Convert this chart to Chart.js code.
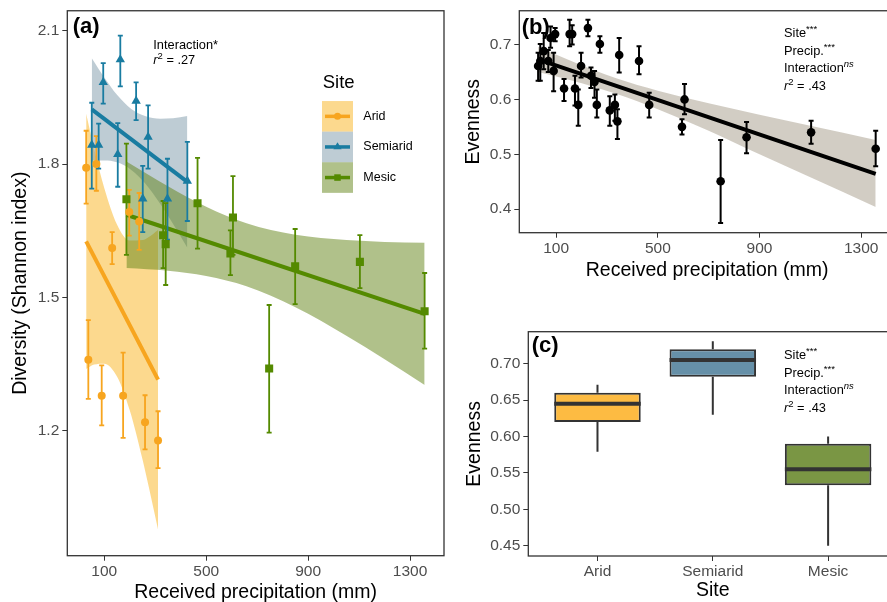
<!DOCTYPE html>
<html>
<head>
<meta charset="utf-8">
<script src="https://cdn.jsdelivr.net/npm/chart.js@4.4.0/dist/chart.umd.min.js"></script>
<style>
  html, body { margin: 0; padding: 0; background: #fff; overflow: hidden; }
  #wrap { position: relative; width: 887px; height: 602px; overflow: hidden; }
  canvas { position: absolute; }
  #diversity { left: 0; top: 0; }
  #evenness { left: 452px; top: 0; }
  #sites { left: 452px; top: 300px; }
</style>
</head>
<body>
<div id="wrap">
  <canvas id="diversity" width="452" height="602"></canvas>
  <canvas id="evenness" width="452" height="290"></canvas>
  <canvas id="sites" width="452" height="302"></canvas>
</div>
<script>
// ---- data ----
const sites = ['Arid', 'Semiarid', 'Mesic'];

// received precipitation per plot (mm)
const aridPrecip  = [29, 37.5, 69, 90, 131, 174, 198, 237, 260, 311];
const semiPrecip  = [51, 78, 96, 153, 163, 225, 251, 272, 348, 426];
const mesicPrecip = [187, 331, 341, 466, 595, 605, 747, 849, 1103, 1357];

// Shannon diversity (mean, lower, upper)
const aridDiv    = [1.792, 1.360, 1.800, 1.279, 1.611, 1.279, 1.692, 1.671, 1.219, 1.178];
const aridDivLo  = [1.711, 1.272, 1.740, 1.212, 1.575, 1.184, 1.639, 1.607, 1.158, 1.116];
const aridDivHi  = [1.875, 1.449, 1.863, 1.347, 1.647, 1.376, 1.742, 1.735, 1.280, 1.244];
const semiDiv    = [1.843, 1.843, 1.984, 1.822, 2.035, 1.942, 1.722, 1.861, 1.722, 1.762];
const semiDivLo  = [1.745, 1.790, 1.936, 1.749, 1.975, 1.899, 1.647, 1.790, 1.630, 1.672];
const semiDivHi  = [1.938, 1.891, 2.027, 1.892, 2.089, 1.984, 1.796, 1.932, 1.812, 1.850];
const mesicDiv   = [1.721, 1.640, 1.620, 1.712, 1.599, 1.680, 1.340, 1.570, 1.580, 1.469];
const mesicDivLo = [1.596, 1.566, 1.528, 1.610, 1.550, 1.596, 1.196, 1.485, 1.521, 1.385];
const mesicDivHi = [1.846, 1.717, 1.712, 1.814, 1.651, 1.773, 1.483, 1.654, 1.640, 1.555];

// evenness (mean, lower, upper)
const aridEven    = [0.661, 0.670, 0.670, 0.652, 0.620, 0.620, 0.661, 0.643, 0.590, 0.580];
const aridEvenLo  = [0.634, 0.634, 0.650, 0.615, 0.597, 0.589, 0.640, 0.621, 0.567, 0.552];
const aridEvenHi  = [0.685, 0.701, 0.690, 0.685, 0.637, 0.643, 0.685, 0.658, 0.618, 0.606];
const semiEven    = [0.688, 0.712, 0.719, 0.719, 0.719, 0.730, 0.632, 0.701, 0.681, 0.670];
const semiEvenLo  = [0.655, 0.694, 0.706, 0.697, 0.700, 0.715, 0.603, 0.685, 0.649, 0.646];
const semiEvenHi  = [0.721, 0.733, 0.730, 0.745, 0.735, 0.745, 0.652, 0.715, 0.712, 0.697];
const mesicEven   = [0.590, 0.590, 0.560, 0.590, 0.550, 0.600, 0.451, 0.531, 0.540, 0.510];
const mesicEvenLo = [0.552, 0.561, 0.528, 0.567, 0.536, 0.573, 0.375, 0.502, 0.519, 0.478];
const mesicEvenHi = [0.618, 0.609, 0.582, 0.612, 0.564, 0.628, 0.526, 0.559, 0.561, 0.543];

// fitted lines
const aridFitX  = [29, 311],   aridFitY  = [1.626, 1.315];
const semiFitX  = [51, 426],   semiFitY  = [1.923, 1.760];
const mesicFitX = [187, 1357], mesicFitY = [1.686, 1.463];
const evenFitX  = [29, 1357],  evenFitY  = [0.673, 0.4645];

// confidence bands
const aridBandX   = [29, 60, 100, 150, 200, 250, 275, 311];
const aridBandHi  = [1.913, 1.835, 1.746, 1.664, 1.628, 1.629, 1.636, 1.652];
const aridBandLo  = [1.339, 1.349, 1.351, 1.322, 1.246, 1.136, 1.073, 0.978];
const semiBandX   = [51, 100, 150, 206, 260, 320, 370, 426];
const semiBandHi  = [2.038, 1.995, 1.956, 1.924, 1.908, 1.902, 1.903, 1.908];
const semiBandLo  = [1.808, 1.808, 1.804, 1.787, 1.757, 1.710, 1.665, 1.612];
const mesicBandX  = [187, 350, 500, 658, 850, 1050, 1200, 1357];
const mesicBandHi = [1.806, 1.750, 1.704, 1.667, 1.641, 1.629, 1.625, 1.623];
const mesicBandLo = [1.566, 1.560, 1.548, 1.525, 1.478, 1.414, 1.361, 1.303];
const evenBandX   = [29, 150, 339, 500, 700, 900, 1100, 1357];
const evenBandHi  = [0.696, 0.672, 0.638, 0.616, 0.593, 0.572, 0.552, 0.526];
const evenBandLo  = [0.650, 0.636, 0.610, 0.582, 0.543, 0.500, 0.458, 0.404];

// evenness by site (boxplot stats)
const boxMin = [0.579, 0.630, 0.450];
const boxQ1  = [0.620, 0.682, 0.533];
const boxMed = [0.645, 0.705, 0.555];
const boxQ3  = [0.660, 0.720, 0.590];
const boxMax = [0.671, 0.731, 0.600];

// ticks
const precipTicks = [100, 500, 900, 1300];
const divTicks = [1.2, 1.5, 1.8, 2.1];
const evenTicks = [0.4, 0.5, 0.6, 0.7];
const boxTicks = [0.45, 0.50, 0.55, 0.60, 0.65, 0.70];
const siteTicks = [1, 2, 3];

// ---- styling ----
const FONT = "'Liberation Sans', Arial, Helvetica, sans-serif";
const INK = '#333333';
const ARID = '#F7A51F', SEMI = '#197CA1', MESIC = '#548A00';
const siteColors = [ARID, SEMI, MESIC];
const bandFills = ['rgba(250,180,30,0.5)', 'rgba(125,153,169,0.5)', 'rgba(97,131,21,0.5)'];
const markers = ['circle', 'triangle', 'rect'];
const boxFills = ['#FDBB42', '#6690A8', '#7A9644'];

const TXT = `12.8px ${FONT}`, SUP = `9.5px ${FONT}`;
const ITAL = `italic 12.8px ${FONT}`, SUPI = `italic 9.5px ${FONT}`;
const TAG = `bold 22px ${FONT}`;

const pts = (xs, ys) => xs.map((x, i) => ({ x, y: ys[i] }));

function axis(min, max, values, fmt, title, size, titlePad) {
  return {
    type: 'linear', min, max, offset: false,
    afterBuildTicks: a => { a.ticks = values.map(v => ({ value: v })); },
    afterFit: a => { if (a.isHorizontal()) a.height = size; else a.width = size; },
    ticks: { font: { family: FONT, size: 15.5, lineHeight: 1 }, color: '#4d4d4d', padding: 3,
             callback: fmt, autoSkip: false, maxRotation: 0 },
    grid: { display: true, offset: false, drawOnChartArea: false, drawTicks: true, tickLength: 5, tickColor: INK, tickWidth: 1 },
    border: { display: false },
    title: { display: true, text: title, color: '#000', font: { family: FONT, size: 19.5, lineHeight: 1 }, padding: titlePad }
  };
}

function pointSet(xs, ys, color, style, r) {
  return { data: pts(xs, ys), pointStyle: style, pointRadius: r, pointHoverRadius: r,
           backgroundColor: color, borderWidth: 0 };
}
function fitSet(xs, ys, color) {
  return { data: pts(xs, ys), showLine: true, borderColor: color, borderWidth: 4, pointRadius: 0, fill: false };
}
function edgeSet(xs, ys, fillColor) {
  return { data: pts(xs, ys), showLine: true, borderWidth: 0, borderColor: 'transparent', pointRadius: 0,
           cubicInterpolationMode: 'monotone', fill: fillColor ? '-1' : false,
           backgroundColor: fillColor || 'transparent' };
}

// panel box
Chart.register({
  id: 'frame',
  afterDraw(chart) {
    const { ctx, chartArea: a } = chart;
    ctx.save();
    ctx.strokeStyle = INK;
    ctx.lineWidth = 1.3;
    ctx.strokeRect(a.left, a.top, a.right - a.left, a.bottom - a.top);
    ctx.restore();
  }
});

// vertical error bars with caps, drawn just before the points
function errorBars(groups, beforeIndex, width, cap) {
  return {
    id: 'errorBars',
    beforeDatasetDraw(chart, args) {
      if (args.index !== beforeIndex) return;
      const { ctx, scales: { x, y } } = chart;
      ctx.save();
      ctx.lineWidth = width;
      for (const g of groups) {
        ctx.strokeStyle = g.color;
        g.xs.forEach((v, i) => {
          const px = x.getPixelForValue(v);
          const top = y.getPixelForValue(g.hi[i]), bot = y.getPixelForValue(g.lo[i]);
          ctx.beginPath();
          ctx.moveTo(px, top); ctx.lineTo(px, bot);
          ctx.moveTo(px - cap, top); ctx.lineTo(px + cap, top);
          ctx.moveTo(px - cap, bot); ctx.lineTo(px + cap, bot);
          ctx.stroke();
        });
      }
      ctx.restore();
    }
  };
}

// text runs (superscripts, italics) placed from the panel's top-left
function notes(items) {
  return {
    id: 'notes',
    afterDraw(chart) {
      const { ctx, chartArea: a } = chart;
      ctx.save();
      ctx.fillStyle = '#000';
      ctx.textAlign = 'left';
      ctx.textBaseline = 'alphabetic';
      for (const it of items) {
        let x = a.left + it.dx;
        const y = a.top + it.dy;
        for (const r of it.runs) {
          ctx.font = r.font;
          ctx.fillText(r.text, x, y - (r.rise || 0));
          x += ctx.measureText(r.text).width;
        }
      }
      ctx.restore();
    }
  };
}

function statLines(dx, dy, r2) {
  const rows = [
    [{ text: 'Site', font: TXT }, { text: '***', font: SUP, rise: 5 }],
    [{ text: 'Precip.', font: TXT }, { text: '***', font: SUP, rise: 5 }],
    [{ text: 'Interaction', font: TXT }, { text: 'ns', font: SUPI, rise: 5 }],
    [{ text: 'r', font: ITAL }, { text: '2', font: SUP, rise: 5 }, { text: ' = ' + r2, font: TXT }]
  ];
  return rows.map((runs, i) => ({ dx, dy: dy + i * 17.5, runs }));
}

const siteLegend = {
  id: 'siteLegend',
  afterDraw(chart) {
    const { ctx, chartArea: a } = chart;
    const left = a.left + 254.7, top = a.top + 90.3, w = 31, h = 30.6;
    const radii = [3.5, 4.8, 4.6];
    ctx.save();
    ctx.textBaseline = 'middle';
    ctx.fillStyle = '#000';
    ctx.font = `18.5px ${FONT}`;
    ctx.fillText('Site', left + 0.7, top - 18.3);
    sites.forEach((name, i) => {
      const y = top + i * h;
      ctx.fillStyle = bandFills[i];
      ctx.fillRect(left, y, w, h);
      ctx.strokeStyle = siteColors[i];
      ctx.lineWidth = 3.5;
      ctx.beginPath();
      ctx.moveTo(left + 3, y + h / 2); ctx.lineTo(left + w - 3, y + h / 2);
      ctx.stroke();
      ctx.fillStyle = siteColors[i];
      Chart.helpers.drawPoint(ctx, { pointStyle: markers[i], radius: radii[i], rotation: 0, borderWidth: 0 },
                              left + w / 2, y + h / 2);
      ctx.fillStyle = '#000';
      ctx.font = `12.5px ${FONT}`;
      ctx.fillText(name, left + 41.3, y + h / 2);
    });
    ctx.restore();
  }
};

// whiskers under the boxes, medians on top
const boxParts = {
  id: 'boxParts',
  beforeDatasetsDraw(chart) {
    const { ctx, scales: { x, y } } = chart;
    ctx.save();
    ctx.strokeStyle = INK;
    ctx.lineWidth = 2;
    sites.forEach((s, i) => {
      const px = x.getPixelForValue(i + 1);
      ctx.beginPath();
      ctx.moveTo(px, y.getPixelForValue(boxQ3[i])); ctx.lineTo(px, y.getPixelForValue(boxMax[i]));
      ctx.moveTo(px, y.getPixelForValue(boxQ1[i])); ctx.lineTo(px, y.getPixelForValue(boxMin[i]));
      ctx.stroke();
    });
    ctx.restore();
  },
  afterDatasetsDraw(chart) {
    const { ctx, scales: { y } } = chart;
    const bars = chart.getDatasetMeta(0).data;
    ctx.save();
    ctx.strokeStyle = INK;
    ctx.lineWidth = 4;
    bars.forEach((bar, i) => {
      const py = y.getPixelForValue(boxMed[i]);
      ctx.beginPath();
      ctx.moveTo(bar.x - bar.width / 2, py); ctx.lineTo(bar.x + bar.width / 2, py);
      ctx.stroke();
    });
    ctx.restore();
  }
};

const common = {
  responsive: false, animation: false, devicePixelRatio: 1,
  plugins: { legend: { display: false }, tooltip: { enabled: false } }
};

// (a) diversity vs precipitation
new Chart(document.getElementById('diversity'), {
  type: 'scatter',
  data: { datasets: [
    pointSet(aridPrecip, aridDiv, ARID, 'circle', 4),
    pointSet(semiPrecip, semiDiv, SEMI, 'triangle', 5.4),
    pointSet(mesicPrecip, mesicDiv, MESIC, 'rect', 5.7),
    fitSet(aridFitX, aridFitY, ARID),
    fitSet(semiFitX, semiFitY, SEMI),
    fitSet(mesicFitX, mesicFitY, MESIC),
    edgeSet(mesicBandX, mesicBandHi, null),
    edgeSet(mesicBandX, mesicBandLo, bandFills[2]),
    edgeSet(semiBandX, semiBandHi, null),
    edgeSet(semiBandX, semiBandLo, bandFills[1]),
    edgeSet(aridBandX, aridBandHi, null),
    edgeSet(aridBandX, aridBandLo, bandFills[0])
  ] },
  options: {
    ...common,
    layout: { padding: { top: 8, right: 8, left: 0, bottom: 0 } },
    scales: {
      x: axis(-45, 1433, precipTicks, v => v, 'Received precipitation (mm)', 46.3, { top: 0, bottom: 0 }),
      y: axis(0.919, 2.145, divTicks, v => v.toFixed(1), 'Diversity (Shannon index)', 67.3, { top: 11, bottom: 0 })
    }
  },
  plugins: [
    errorBars([
      { xs: aridPrecip, lo: aridDivLo, hi: aridDivHi, color: ARID },
      { xs: semiPrecip, lo: semiDivLo, hi: semiDivHi, color: SEMI },
      { xs: mesicPrecip, lo: mesicDivLo, hi: mesicDivHi, color: MESIC }
    ], 2, 1.8, 2.5),
    siteLegend,
    notes([
      { dx: 5.4, dy: 22.4, runs: [{ text: '(a)', font: TAG }] },
      { dx: 86, dy: 38, runs: [{ text: 'Interaction*', font: TXT }] },
      { dx: 86, dy: 53.7, runs: [{ text: 'r', font: ITAL }, { text: '2', font: SUP, rise: 5 }, { text: ' = .27', font: TXT }] }
    ])
  ]
});

// (b) evenness vs precipitation
new Chart(document.getElementById('evenness'), {
  type: 'scatter',
  data: { datasets: [
    { data: [...pts(aridPrecip, aridEven), ...pts(semiPrecip, semiEven), ...pts(mesicPrecip, mesicEven)],
      pointStyle: 'circle', pointRadius: 4.3, pointHoverRadius: 4.3, backgroundColor: '#000', borderWidth: 0 },
    fitSet(evenFitX, evenFitY, '#000'),
    edgeSet(evenBandX, evenBandHi, null),
    edgeSet(evenBandX, evenBandLo, 'rgba(165,155,137,0.5)')
  ] },
  options: {
    ...common,
    layout: { padding: { top: 9.3, right: 9, left: 0, bottom: 0 } },
    scales: {
      x: axis(-45, 1433, precipTicks, v => v, 'Received precipitation (mm)', 57.3, { top: 0, bottom: 9.25 }),
      y: axis(0.3571, 0.7616, evenTicks, v => v.toFixed(1), 'Evenness', 67.3, { top: 11.5, bottom: 0 })
    }
  },
  plugins: [
    errorBars([
      { xs: aridPrecip, lo: aridEvenLo, hi: aridEvenHi, color: '#000' },
      { xs: semiPrecip, lo: semiEvenLo, hi: semiEvenHi, color: '#000' },
      { xs: mesicPrecip, lo: mesicEvenLo, hi: mesicEvenHi, color: '#000' }
    ], 0, 2, 2.5),
    notes([
      { dx: 2.4, dy: 23.4, runs: [{ text: '(b)', font: TAG }] },
      ...statLines(264.7, 26.7, '.43')
    ])
  ]
});

// (c) evenness by site
new Chart(document.getElementById('sites'), {
  type: 'bar',
  data: { datasets: [{
    data: sites.map((s, i) => ({ x: i + 1, y: [boxQ1[i], boxQ3[i]] })),
    backgroundColor: boxFills, borderColor: INK, borderWidth: 2, borderSkipped: false,
    barPercentage: 0.75, categoryPercentage: 1
  }] },
  options: {
    ...common,
    layout: { padding: { top: 31.7, right: 6.7, left: 0, bottom: 0 } },
    scales: {
      x: axis(0.4, 3.6, siteTicks, v => sites[v - 1], 'Site', 46, { top: 0, bottom: 1.25 }),
      y: axis(0.436, 0.744, boxTicks, v => v.toFixed(2), 'Evenness', 76.3, { top: 13, bottom: 0 })
    }
  },
  plugins: [
    boxParts,
    notes([
      { dx: 3.4, dy: 20.3, runs: [{ text: '(c)', font: TAG }] },
      ...statLines(255.7, 27.6, '.43')
    ])
  ]
});
</script>
</body>
</html>
